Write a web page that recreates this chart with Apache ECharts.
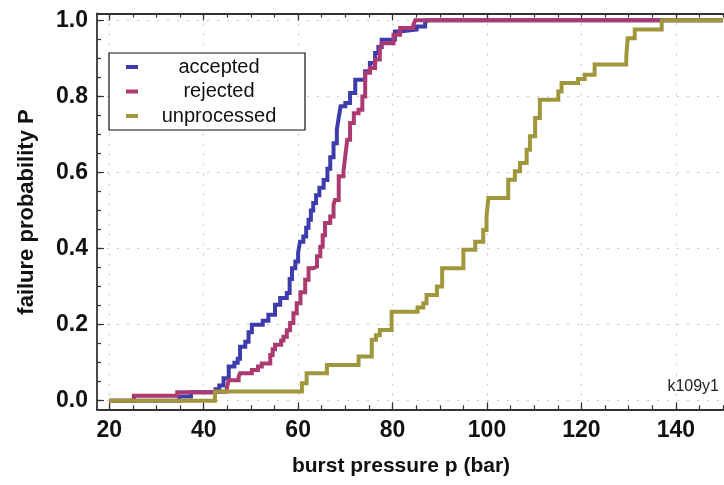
<!DOCTYPE html>
<html>
<head>
<meta charset="utf-8">
<script src="https://cdn.jsdelivr.net/npm/echarts@6/dist/echarts.min.js"></script>
<style>
html,body{margin:0;padding:0;background:#fff;}
#chart{width:724px;height:485px;}
</style>
</head>
<body>
<div id="chart"></div>
<script>
// ---- data (burst pressure p [bar], failure probability P) ----
var seriesNames = ['accepted', 'rejected', 'unprocessed'];
var acceptedData = [[20,0],[34.8,0.011],[37.3,0.022],[42.5,0.03],[43.3,0.04],[44.2,0.059],[45.3,0.09],[46.5,0.1],[47.2,0.11],[47.7,0.142],[48.8,0.155],[49.5,0.18],[50.2,0.2],[52.5,0.21],[53.7,0.226],[55.1,0.252],[56.2,0.27],[57.6,0.283],[58.2,0.32],[58.7,0.348],[59.4,0.366],[60,0.39],[60.4,0.418],[61.1,0.432],[61.7,0.455],[62.2,0.476],[62.7,0.5],[63.2,0.52],[63.8,0.54],[64.5,0.56],[65.4,0.58],[66.2,0.61],[66.8,0.64],[67.5,0.677],[68.2,0.712],[68.6,0.745],[69,0.774],[70,0.783],[71,0.809],[72.1,0.844],[74.2,0.866],[75.2,0.888],[76.3,0.914],[77,0.93],[77.7,0.949],[80.5,0.971],[81.6,0.976],[85.1,0.984],[86.9,0.993],[87.3,1.0],[150,1.0]];
var rejectedData = [[20,0],[25.2,0.013],[34.4,0.022],[41.7,0.024],[44.9,0.033],[45.3,0.054],[47.4,0.063],[47.7,0.072],[50.2,0.081],[51.5,0.09],[52.3,0.098],[54.1,0.12],[54.6,0.135],[55.1,0.147],[56.4,0.158],[56.9,0.168],[57.6,0.185],[58.3,0.204],[59,0.23],[59.7,0.256],[60.5,0.285],[61.5,0.318],[62.2,0.348],[63.2,0.353],[64,0.38],[64.7,0.405],[65.2,0.435],[65.7,0.467],[66.8,0.484],[67.5,0.515],[67.8,0.528],[68.6,0.59],[69.6,0.603],[70,0.645],[70.4,0.686],[71,0.73],[71.8,0.756],[72.8,0.765],[73.6,0.8],[74.2,0.862],[75.2,0.875],[76.3,0.897],[77.3,0.923],[77.7,0.94],[80.2,0.962],[81.6,0.98],[84.4,0.988],[84.8,1.0],[150,1.0]];
var unprocessedData = [[20,0],[42.4,0.024],[60.8,0.046],[61.8,0.072],[66.1,0.094],[72.8,0.116],[75.6,0.16],[76.5,0.172],[77.3,0.186],[79.8,0.234],[85.3,0.245],[86.5,0.256],[87.2,0.278],[89.4,0.3],[90.5,0.348],[95,0.397],[97.5,0.418],[99.2,0.449],[99.9,0.484],[100.3,0.533],[104.5,0.581],[105.9,0.603],[107,0.625],[108.4,0.66],[109.1,0.695],[110.2,0.743],[111.2,0.791],[115.1,0.813],[115.8,0.835],[119.3,0.846],[120.7,0.857],[122.8,0.884],[129.5,0.905],[129.8,0.953],[131.3,0.976],[137,1.0],[150,1.0]];

// ---- axes ticks ----
var xMajorTicks = [20, 40, 60, 80, 100, 120, 140];
var xMinorTicks = [20,25,30,35,40,45,50,55,60,65,70,75,80,85,90,95,100,105,110,115,120,125,130,135,140,145,150];
var yMajorTicks = [0, 0.2, 0.4, 0.6, 0.8, 1.0];
var yMinorTicks = [0,0.05,0.1,0.15,0.2,0.25,0.3,0.35,0.4,0.45,0.5,0.55,0.6,0.65,0.7,0.75,0.8,0.85,0.9,0.95,1.0];
var xTitle = 'burst pressure p (bar)';
var yTitle = 'failure probability P';
var tagText = 'k109y1';

var colors = ['#3c3cac', '#ab3a70', '#a0963c'];
var frameColor = '#333333';
var gridColor = '#c8c8c8';
var tickFont = 'Liberation Sans, Arial, sans-serif';

var XMIN = 17.4, XMAX = 150.2, YMIN = -0.0226, YMAX = 1.018;

function xAxisBase(pos, major, withLine) {
  return {
    type: 'value', position: pos, min: XMIN, max: XMAX,
    axisLine: { show: withLine, onZero: false, lineStyle: { color: frameColor, width: 1.8 } },
    axisTick: { show: true, inside: true, length: major ? 7 : 4, customValues: major ? xMajorTicks : xMinorTicks,
                lineStyle: { color: frameColor, width: 1.2 } },
    axisLabel: { show: major && pos === 'bottom', customValues: xMajorTicks, margin: 10,
                 fontFamily: tickFont, fontWeight: 'bold', fontSize: 23, color: '#111',
                 formatter: function (v) { return String(Math.round(v)); } },
    splitLine: { show: major && pos === 'bottom', lineStyle: { color: gridColor, type: [2, 8], width: 1.2 } }
  };
}
function yAxisBase(major) {
  return {
    type: 'value', position: 'left', min: YMIN, max: YMAX,
    axisLine: { show: major, onZero: false, lineStyle: { color: frameColor, width: 1.8 } },
    axisTick: { show: true, inside: true, length: major ? 7 : 4, customValues: major ? yMajorTicks : yMinorTicks,
                lineStyle: { color: frameColor, width: 1.2 } },
    axisLabel: { show: major, customValues: yMajorTicks, margin: 9,
                 fontFamily: tickFont, fontWeight: 'bold', fontSize: 23, color: '#111',
                 formatter: function (v) { return v.toFixed(1); } },
    splitLine: { show: major, lineStyle: { color: gridColor, type: [2, 8], width: 1.2 } }
  };
}

var dataSets = [acceptedData, rejectedData, unprocessedData];
var series = seriesNames.map(function (name, i) {
  return {
    name: name, type: 'line', step: 'end', data: dataSets[i],
    xAxisIndex: 0, yAxisIndex: 0,
    showSymbol: false, symbol: 'none', animation: false,
    lineStyle: { color: colors[i], width: 4, join: 'miter' },
    itemStyle: { color: colors[i] }
  };
});

var chart = echarts.init(document.getElementById('chart'), null, { renderer: 'canvas' });
chart.setOption({
  animation: false,
  backgroundColor: '#ffffff',
  grid: { left: 97, right: 0, top: 13.5, bottom: 75.7, containLabel: false },
  xAxis: [xAxisBase('bottom', true, true), xAxisBase('bottom', false, false),
          xAxisBase('top', true, true), xAxisBase('top', false, false)],
  yAxis: [yAxisBase(true), yAxisBase(false)],
  legend: {
    show: true, orient: 'vertical', left: 109, top: 53,
    data: seriesNames,
    itemWidth: 12, itemHeight: 4, itemGap: 4.5,
    icon: 'rect',
    backgroundColor: '#fff', borderColor: '#111', borderWidth: 1.2, borderRadius: 0,
    padding: [4, 10, 4, 17],
    formatter: function (name) { return '{c|' + name + '}'; },
    textStyle: {
      rich: { c: { width: 152, align: 'center', fontSize: 20, fontFamily: 'Liberation Sans, Arial, sans-serif', color: '#111', lineHeight: 18 } }
    }
  },
  graphic: [
    { type: 'text', x: 27, y: 212, rotation: Math.PI / 2,
      style: { text: yTitle, font: 'bold 22px Liberation Sans, Arial, sans-serif', fill: '#111', textAlign: 'center', textVerticalAlign: 'middle' } },
    { type: 'text', x: 401, y: 466,
      style: { text: xTitle, font: 'bold 21px Liberation Sans, Arial, sans-serif', fill: '#111', textAlign: 'center', textVerticalAlign: 'middle' } },
    { type: 'text', x: 719, y: 387,
      style: { text: tagText, font: '16px Liberation Sans, Arial, sans-serif', fill: '#222', textAlign: 'right', textVerticalAlign: 'middle' } }
  ],
  series: series
});
</script>
</body>
</html>
